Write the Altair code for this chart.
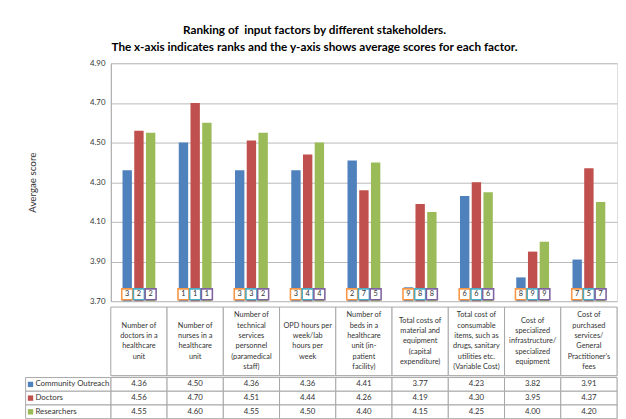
import altair as alt
import pandas as pd

# ---------------- data ----------------
categories = [
    "Number of\ndoctors in a\nhealthcare\nunit",
    "Number of\nnurses in a\nhealthcare\nunit",
    "Number of\ntechnical\nservices\npersonnel\n(paramedical\nstaff)",
    "OPD hours per\nweek/lab\nhours per\nweek",
    "Number of\nbeds in a\nhealthcare\nunit (in-\npatient\nfacility)",
    "Total costs of\nmaterial and\nequipment\n(capital\nexpenditure)",
    "Total cost of\nconsumable\nitems, such as\ndrugs, sanitary\nutilities etc.\n(Variable Cost)",
    "Cost of\nspecialized\ninfrastructure/\nspecialized\nequipment",
    "Cost of\npurchased\nservices/\nGeneral\nPractitioner's\nfees",
]
series = ["Community Outreach", "Doctors", "Researchers"]
community = [4.36, 4.50, 4.36, 4.36, 4.41, 3.77, 4.23, 3.82, 3.91]
doctors = [4.56, 4.70, 4.51, 4.44, 4.26, 4.19, 4.30, 3.95, 4.37]
researchers = [4.55, 4.60, 4.55, 4.50, 4.40, 4.15, 4.25, 4.00, 4.20]
rank_community = [3, 1, 3, 3, 2, 9, 6, 8, 7]
rank_doctors = [2, 1, 3, 4, 7, 8, 6, 9, 5]
rank_researchers = [2, 1, 2, 4, 5, 8, 6, 9, 7]
y_ticks = [3.70, 3.90, 4.10, 4.30, 4.50, 4.70, 4.90]
y_domain = [3.70, 4.90]

title_lines = [
    "Ranking of\u00a0 input factors by different stakeholders.",
    "The x-axis indicates ranks and the y-axis shows average scores for each factor.",
]
y_title = "Avergae score"

# ---------------- styles ----------------
bar_colors = ["#4f81bd", "#c0504d", "#9bbb59"]
box_colors = ["#f79646", "#4bacc6", "#8064a2"]
grid_color = "#b8b8b8"
border_color = "#a6a6a6"
text_color = "#333333"
FONT = "Lato"

W = 517
H = 243
LH = 70
ROW = 14
LINE_SPAN = 3.3  # half of the label row height, in text lines

# ---------------- tables ----------------
cat_ids = [f"c{i}" for i in range(len(categories))]
rows = []
for s, vals, ranks in zip(series, [community, doctors, researchers],
                          [rank_community, rank_doctors, rank_researchers]):
    for cid, v, r in zip(cat_ids, vals, ranks):
        rows.append({"cat": cid, "series": s, "score": v, "rank": r})
df = pd.DataFrame(rows)
lab_df = pd.DataFrame({"cat": cat_ids})
line_rows = []
for cid, lab in zip(cat_ids, categories):
    parts = lab.split("\n")
    n = len(parts)
    for i, p in enumerate(parts):
        line_rows.append({"cat": cid, "line": p, "pos": i - (n - 1) / 2})
lines_df = pd.DataFrame(line_rows)
ser_df = pd.DataFrame({"series": series})

x_enc = alt.X("cat:N", sort=cat_ids,
              scale=alt.Scale(paddingInner=0, paddingOuter=0), axis=None)
xoff = alt.XOffset("series:N", sort=series,
                   scale=alt.Scale(paddingInner=0.2, paddingOuter=1))
color_enc = alt.Color("series:N", sort=series,
                      scale=alt.Scale(domain=series, range=bar_colors), legend=None)

# ---------------- bar panel ----------------
bars = alt.Chart(df).mark_bar().encode(
    x=x_enc,
    xOffset=xoff,
    y=alt.Y("score:Q",
            scale=alt.Scale(domain=y_domain, zero=False, nice=False),
            axis=alt.Axis(values=y_ticks, format=".2f", grid=True, gridColor=grid_color,
                          domainColor=border_color, ticks=False, tickSize=0,
                          labelFontSize=8, labelColor=text_color, labelFont=FONT,
                          labelPadding=6, title=y_title, titleFont=FONT,
                          titleFontSize=10, titleFontWeight="normal",
                          titleColor=text_color, titlePadding=53)),
    y2=alt.datum(y_domain[0]),
    color=color_enc,
)

boxes = alt.Chart(df).mark_point(shape="square", size=125, filled=True, fill="white",
                                 strokeWidth=1.6, opacity=1).encode(
    x=x_enc,
    xOffset=xoff,
    y=alt.value(H - 7),
    stroke=alt.Stroke("series:N", sort=series,
                      scale=alt.Scale(domain=series, range=box_colors), legend=None),
)

rank_txt = alt.Chart(df).mark_text(fontSize=7.5, color=text_color, font=FONT,
                                   baseline="middle").encode(
    x=x_enc,
    xOffset=xoff,
    y=alt.value(H - 7),
    text="rank:Q",
)

top = alt.layer(bars, boxes, rank_txt).properties(width=W, height=H)

# ---------------- category label row ----------------
lab_cells = alt.Chart(lab_df).mark_rect(fill="white", stroke=border_color,
                                        strokeWidth=1).encode(
    x=x_enc, y=alt.value(0), y2=alt.value(LH))
lab_txt = alt.Chart(lines_df).mark_text(fontSize=7.5, baseline="middle",
                                        color=text_color, font=FONT).encode(
    x=x_enc,
    y=alt.Y("pos:Q", scale=alt.Scale(domain=[LINE_SPAN, -LINE_SPAN]), axis=None),
    text="line:N")
mid = alt.layer(lab_cells, lab_txt).properties(width=W, height=LH)

# ---------------- data table ----------------
y_row = alt.Y("series:N", sort=series,
              scale=alt.Scale(paddingInner=0, paddingOuter=0), axis=None)
tcells = alt.Chart(df).mark_rect(fill="white", stroke=border_color,
                                 strokeWidth=1).encode(x=x_enc, y=y_row)
ttxt = alt.Chart(df).mark_text(fontSize=8, color=text_color, font=FONT,
                               baseline="middle").encode(
    x=x_enc, y=y_row, text=alt.Text("score:Q", format=".2f"))
lcells = alt.Chart(ser_df).mark_rect(fill="white", stroke=border_color,
                                     strokeWidth=1).encode(
    x=alt.value(-87), x2=alt.value(0), y=y_row)
lsq = alt.Chart(ser_df).mark_point(shape="square", size=30, filled=True,
                                   opacity=1).encode(
    x=alt.value(-82), y=y_row, color=color_enc)
ltxt = alt.Chart(ser_df).mark_text(align="left", fontSize=8, color=text_color,
                                   font=FONT, baseline="middle").encode(
    x=alt.value(-77), y=y_row, text="series:N")
bottom = alt.layer(tcells, ttxt, lcells, lsq, ltxt).properties(width=W, height=ROW * 3)

chart = alt.vconcat(top, mid, bottom, spacing=0).properties(
    title=alt.TitleParams(text=title_lines, font=FONT, fontSize=12, fontWeight="bold",
                          color="#000000", anchor="middle", frame="bounds",
                          lineHeight=17, offset=5, dx=-7),
    padding={"left": 17, "top": 12, "right": 0, "bottom": 0},
).configure_view(stroke=None).configure(background="white")

chart.save("out.html", embed_options={"renderer": "svg", "actions": False})
